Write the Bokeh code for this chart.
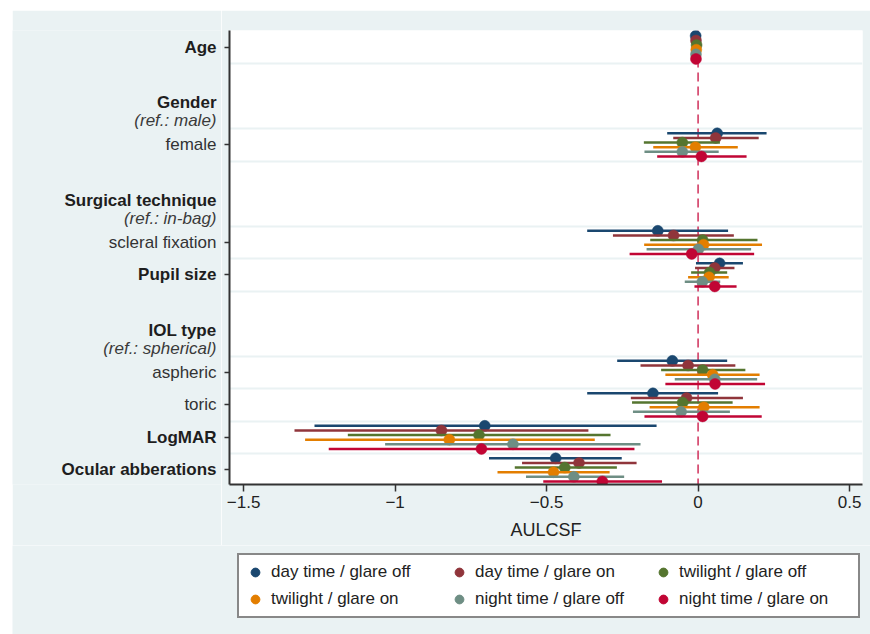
from bokeh.plotting import figure
from bokeh.models import (Range1d, FixedTicker, Span, Legend, LegendItem,
                          ColumnDataSource, Spacer)
from bokeh.layouts import row, column
from bokeh.core.properties import value
from bokeh.embed import file_html
from bokeh.resources import INLINE

# ---------------- data ----------------
variables = ["Age", "female", "scleral fixation", "Pupil size",
             "aspheric", "toric", "LogMAR", "Ocular abberations"]
variable_bold = [True, False, False, True, False, False, True, True]

headings = ["Gender", "Surgical technique", "IOL type"]
heading_refs = ["(ref.: male)", "(ref.: in-bag)", "(ref.: spherical)"]

series_names = ["day time / glare off", "day time / glare on", "twilight / glare off",
                "twilight / glare on", "night time / glare off", "night time / glare on"]

# estimates and 95% CI (order follows `variables`)
est_day_off = [-0.008, 0.063, -0.133, 0.071, -0.085, -0.149, -0.704, -0.470]
lo_day_off = [-0.012, -0.102, -0.366, -0.007, -0.267, -0.366, -1.266, -0.690]
hi_day_off = [-0.004, 0.226, 0.099, 0.148, 0.096, 0.066, -0.137, -0.252]

est_day_on = [-0.007, 0.058, -0.081, 0.055, -0.033, -0.038, -0.847, -0.393]
lo_day_on = [-0.011, -0.082, -0.281, -0.010, -0.190, -0.222, -1.332, -0.581]
hi_day_on = [-0.003, 0.200, 0.118, 0.120, 0.123, 0.148, -0.362, -0.203]

est_twi_off = [-0.005, -0.052, 0.015, 0.038, 0.015, -0.051, -0.723, -0.440]
lo_twi_off = [-0.009, -0.179, -0.158, -0.023, -0.122, -0.218, -1.156, -0.605]
hi_twi_off = [-0.001, 0.072, 0.196, 0.096, 0.156, 0.114, -0.289, -0.268]

est_twi_on = [-0.006, -0.009, 0.018, 0.036, 0.048, 0.019, -0.821, -0.477]
lo_twi_on = [-0.010, -0.148, -0.178, -0.033, -0.108, -0.160, -1.297, -0.662]
hi_twi_on = [-0.002, 0.131, 0.211, 0.101, 0.203, 0.203, -0.341, -0.292]

est_night_off = [-0.007, -0.052, 0.001, 0.014, 0.055, -0.056, -0.611, -0.410]
lo_night_off = [-0.011, -0.177, -0.170, -0.044, -0.077, -0.215, -1.033, -0.568]
hi_night_off = [-0.003, 0.068, 0.175, 0.073, 0.195, 0.105, -0.190, -0.244]

est_night_on = [-0.007, 0.011, -0.021, 0.055, 0.056, 0.015, -0.715, -0.316]
lo_night_on = [-0.011, -0.135, -0.226, -0.012, -0.108, -0.177, -1.219, -0.511]
hi_night_on = [-0.003, 0.160, 0.185, 0.127, 0.221, 0.210, -0.210, -0.119]

x_ticks = [-1.5, -1, -0.5, 0, 0.5]
x_tick_labels = ["\u22121.5", "\u22121", "\u22120.5", "0", "0.5"]

# ---------------- layout / style ----------------
colors = ["#1a476f", "#90353b", "#55752f", "#e37e00", "#6e8e84", "#c10534"]
all_est = [est_day_off, est_day_on, est_twi_off, est_twi_on, est_night_off, est_night_on]
all_lo = [lo_day_off, lo_day_on, lo_twi_off, lo_twi_on, lo_night_off, lo_night_on]
all_hi = [hi_day_off, hi_day_on, hi_twi_off, hi_twi_on, hi_night_off, hi_night_on]

rows = [0, 3, 6, 7, 10, 11, 12, 13]          # row slot of each variable
heading_rows = [3, 6, 10]                   # first sub-row of each heading block
grid_rows = [0.5, 2.5, 3.5, 5.5, 6.5, 7.5, 9.5, 10.5, 11.5, 12.5]
step = 0.142

FONT = "Liberation Sans"
BG = "#EAF2F3"
X0, X1 = -1.5465, 0.5426
TOP_H = 535
LABEL_W = 209

y_range = Range1d(13.45, -0.52)

# ---------- main plot ----------
p = figure(width=649, height=TOP_H, output_backend="svg", toolbar_location=None,
           x_range=Range1d(X0, X1), y_range=y_range,
           min_border_left=8, min_border_right=8, min_border_top=20,
           min_border_bottom=61)
p.border_fill_color = BG
p.background_fill_color = "white"
p.outline_line_color = None

p.xgrid.visible = False
p.ygrid.ticker = FixedTicker(ticks=grid_rows)
p.ygrid.grid_line_color = BG
p.ygrid.grid_line_width = 2

p.add_layout(Span(location=0, dimension="height", line_color="#d23c64",
                  line_width=1.6, line_dash="9 5", level="underlay"))

for i in range(6):
    ys = [r + (i - 2.5) * step for r in rows]
    src = ColumnDataSource(dict(y=ys, est=all_est[i], lo=all_lo[i], hi=all_hi[i]))
    p.segment(x0="lo", y0="y", x1="hi", y1="y", source=src,
              line_color=colors[i], line_width=2.5)
    p.scatter("est", "y", source=src, size=11, fill_color=colors[i],
              line_color=colors[i], line_width=0.5)

xa = p.xaxis[0]
xa.ticker = FixedTicker(ticks=x_ticks)
xa.major_label_overrides = dict(zip(x_ticks, x_tick_labels))
xa.minor_tick_line_color = None
xa.major_tick_out = 7
xa.major_tick_in = 0
xa.major_tick_line_width = 1.5
xa.major_tick_line_color = "#333333"
xa.axis_line_color = "#333333"
xa.axis_line_width = 2
xa.major_label_text_font = FONT
xa.major_label_text_font_size = "17px"
xa.major_label_text_color = "#222222"
xa.major_label_standoff = 4
xa.axis_label = "AULCSF"
xa.axis_label_text_font = FONT
xa.axis_label_text_font_size = "18px"
xa.axis_label_text_font_style = "normal"
xa.axis_label_text_color = "#222222"
xa.axis_label_standoff = 9

ya = p.yaxis[0]
ya.ticker = FixedTicker(ticks=rows)
ya.major_label_overrides = {r: "" for r in rows}
ya.major_label_standoff = 0
ya.minor_tick_line_color = None
ya.major_tick_out = 5
ya.major_tick_in = 0
ya.major_tick_line_width = 1.5
ya.major_tick_line_color = "#333333"
ya.axis_line_color = "#333333"
ya.axis_line_width = 2

# ---------- label column (shares y scale) ----------
lab = figure(width=LABEL_W, height=TOP_H, output_backend="svg", toolbar_location=None,
             x_range=Range1d(0, LABEL_W), y_range=y_range,
             x_axis_location=None, y_axis_location=None,
             min_border_left=0, min_border_right=0, min_border_top=20,
             min_border_bottom=61)
lab.border_fill_color = BG
lab.background_fill_color = BG
lab.outline_line_color = None
lab.grid.visible = False

TX = LABEL_W - 5
bold_txt = [v for v, b in zip(variables, variable_bold) if b] + headings
bold_y = [r for r, b in zip(rows, variable_bold) if b] + [r - 1.29 for r in heading_rows]
norm_txt = [v for v, b in zip(variables, variable_bold) if not b]
norm_y = [r for r, b in zip(rows, variable_bold) if not b]
ital_txt = heading_refs
ital_y = [r - 0.75 for r in heading_rows]

for txt, yy, style, col in [(bold_txt, bold_y, "bold", "#1e1e1e"),
                            (norm_txt, norm_y, "normal", "#333333"),
                            (ital_txt, ital_y, "italic", "#3a3a3a")]:
    lab.text(x=[TX] * len(txt), y=yy, text=txt, text_align="right",
             text_baseline="middle", text_font=value(FONT),
             text_font_size=value("17px"), text_font_style=value(style),
             text_color=col)

# ---------- legend strip ----------
leg = figure(width=858, height=634 - 10 - TOP_H, output_backend="svg",
             toolbar_location=None, x_range=Range1d(0, 1), y_range=Range1d(-100, -99),
             x_axis_location=None, y_axis_location=None,
             min_border_left=0, min_border_right=0, min_border_top=0,
             min_border_bottom=0)
leg.border_fill_color = BG
leg.background_fill_color = BG
leg.outline_line_color = None
leg.grid.visible = False

# legend proxies: same data, outside this strip's visible range
leg_items = []
for i in range(6):
    ys = [r + (i - 2.5) * step for r in rows]
    r = leg.scatter(x=all_est[i], y=ys, size=11, fill_color=colors[i],
                    line_color=colors[i])
    leg_items.append(LegendItem(label=series_names[i], renderers=[r]))

# bokeh fills the grid column by column; reorder so it reads row by row
order = [0, 3, 1, 4, 2, 5]
legend = Legend(items=[leg_items[k] for k in order], ncols=3, location=(225, 16),
                label_text_font=FONT, label_text_font_size="17px",
                label_text_color="#222222",
                glyph_width=22, glyph_height=24, label_width=174, label_height=24,
                label_standoff=5, spacing=3, padding=5,
                border_line_color="#111111", border_line_width=2,
                background_fill_color="white", background_fill_alpha=1)
leg.add_layout(legend, "center")

layout = column(Spacer(height=10),
                row(Spacer(width=12), lab, p),
                row(Spacer(width=12), leg))

open("out.html", "w").write(file_html(layout, INLINE))
